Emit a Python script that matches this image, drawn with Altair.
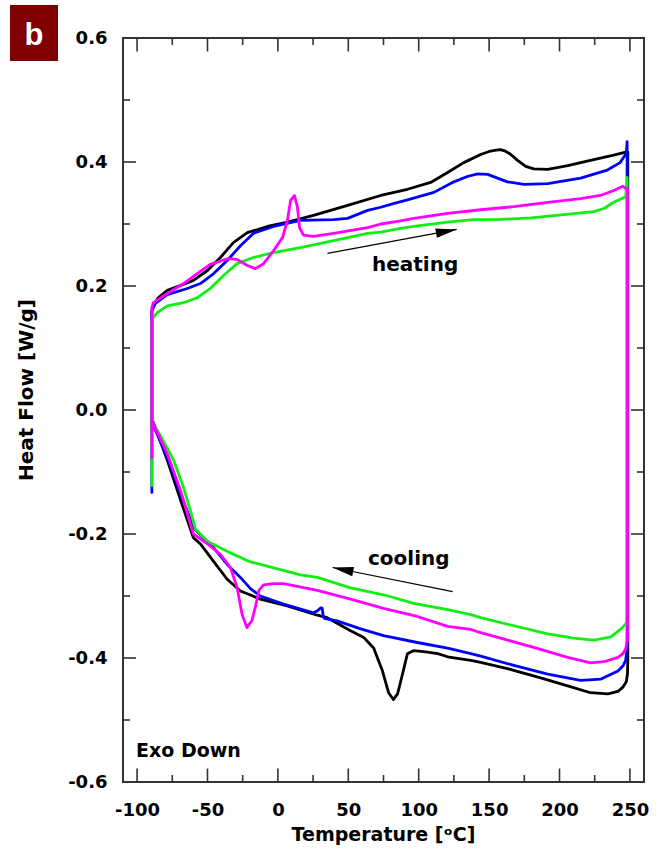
import math
import altair as alt
import pandas as pd

# ---------------- layout constants ----------------
W, H = 521, 744
PAD_L, PAD_T = 123, 38
X_DOM = [-110, 260]
Y_DOM = [-0.6, 0.6]
FRAME = "#333333"
FONT = "DejaVu Sans"

# ---------------- data ----------------
series_names = ["black", "blue", "green", "magenta"]
series_colors = ["#000000", "#0000ff", "#11ee11", "#ff00ff"]

black_T = [-89.5, -89.5, -88.4, -85, -78.5, -69, -60, -50, -40.8, -31.6, -21.7, -7.5, 6.8, 25.3, 49.5, 73, 92,
           108.5, 120.5, 132, 144, 150, 155, 158, 161, 165, 170, 176, 181.7, 191.6, 205.8, 224.3, 238.5, 247,
           248.5,
           248.5, 248.3, 247.5, 245, 241.5, 234.4, 222, 205.8, 186.6, 163, 144, 137, 120.5, 113.5, 105, 96.5,
           92, 88.6, 85, 82, 78.6, 74.3, 68, 61, 51.6, 35, 28, 6.6, -12.5, -26.6, -36, -45.7, -55, -60,
           -69, -78.5, -88.4]
black_HF = [-0.03, 0.160, 0.168, 0.181, 0.193, 0.201, 0.209, 0.225, 0.246, 0.270, 0.286, 0.296, 0.303, 0.314,
            0.330, 0.346, 0.356, 0.367, 0.383, 0.399, 0.412, 0.417, 0.419, 0.420, 0.418, 0.413, 0.403, 0.393,
            0.389, 0.388, 0.394, 0.404, 0.411, 0.416, 0.416,
            -0.400, -0.425, -0.438, -0.447, -0.454, -0.458, -0.456, -0.445, -0.432, -0.417, -0.407, -0.404,
            -0.398, -0.393, -0.390, -0.388, -0.393, -0.425, -0.458, -0.467, -0.456, -0.421, -0.384, -0.367,
            -0.356, -0.335, -0.331, -0.316, -0.305, -0.292, -0.273, -0.244, -0.216, -0.206, -0.146, -0.081,
            -0.020]

blue_T = [-89.5, -89.5, -87, -78.5, -64.4, -55, -45.6, -36, -26.6, -17.3, -3.1, 16, 39.6, 49.5, 63.7, 73, 82,
          92, 110.8, 125, 135, 142, 149, 156, 163, 174.8, 191.6, 215, 234, 243, 247.5, 248,
          248, 247, 245, 241.5, 229.5, 215, 191.6, 167.6, 144, 137, 120.5, 99, 75, 58.8, 42, 33, 32.2, 31.5,
          30.5, 28, 25.3, 4, -12.4, -19.5, -26.6, -36, -45.7, -60, -69, -78.5, -88.4]
blue_HF = [-0.133, 0.160, 0.172, 0.186, 0.196, 0.204, 0.220, 0.241, 0.265, 0.285, 0.296, 0.306, 0.307, 0.309,
           0.322, 0.327, 0.333, 0.339, 0.351, 0.368, 0.377, 0.381, 0.380, 0.374, 0.368, 0.364, 0.365, 0.374,
           0.387, 0.399, 0.414, 0.433,
           -0.383, -0.404, -0.413, -0.421, -0.434, -0.436, -0.426, -0.412, -0.397, -0.393, -0.384, -0.375,
           -0.364, -0.353, -0.340, -0.336, -0.333, -0.320, -0.319, -0.324, -0.327, -0.313, -0.300, -0.288,
           -0.270, -0.249, -0.222, -0.190, -0.135, -0.077, -0.025]

green_T = [-89.5, -89.5, -88, -85.6, -78.5, -67, -57.3, -48, -38.6, -29, -17.3, -3.1, 16, 39.6, 63.7, 73, 87,
           96.5, 120.5, 139, 156, 179.7, 203, 224.3, 231.5, 238.5, 247, 248,
           248, 247, 243.7, 236.5, 224.5, 210, 191.6, 167.6, 144, 137, 120.5, 96.5, 75, 51.6, 28, 16, -12.5,
           -19.5, -36, -50, -58.6, -62.2, -67, -74, -83.5, -89]
green_HF = [-0.122, 0.145, 0.150, 0.157, 0.168, 0.173, 0.181, 0.196, 0.217, 0.236, 0.246, 0.254, 0.262, 0.273,
            0.285, 0.287, 0.293, 0.296, 0.303, 0.307, 0.307, 0.310, 0.315, 0.320, 0.325, 0.335, 0.344, 0.375,
            -0.340, -0.345, -0.353, -0.366, -0.371, -0.368, -0.361, -0.348, -0.335, -0.330, -0.322, -0.312,
            -0.298, -0.287, -0.270, -0.266, -0.249, -0.245, -0.228, -0.212, -0.192, -0.162, -0.125, -0.081,
            -0.041, -0.020]

magenta_T = [-89.5, -89.5, -88.4, -78.5, -67, -57.3, -48, -36, -29, -21.7, -16, -10.2, -3.1, 3.3, 6.8, 9, 11.8,
             13.9, 15.4, 18.2, 25.3, 39.6, 63.7, 73, 87, 96.5, 120.5, 144, 167.6, 191.6, 215, 229, 238.5, 245,
             247, 248.3,
             248.3, 247, 245, 241.5, 231.5, 222, 205.8, 181.7, 144, 137, 120.5, 99, 75, 51.6, 28, 4, -3, -10.2,
             -13.5, -16, -18.5, -22, -25.5, -29, -33.7, -40.8, -50, -60, -69, -78.5, -89]
magenta_HF = [-0.077, 0.165, 0.173, 0.188, 0.204, 0.220, 0.235, 0.244, 0.243, 0.233, 0.228, 0.236, 0.257, 0.278,
              0.306, 0.338, 0.346, 0.327, 0.294, 0.282, 0.280, 0.285, 0.294, 0.300, 0.305, 0.309, 0.317, 0.323,
              0.328, 0.335, 0.341, 0.346, 0.354, 0.361, 0.357, 0.357,
              -0.370, -0.385, -0.393, -0.399, -0.406, -0.408, -0.399, -0.383, -0.359, -0.354, -0.349, -0.333,
              -0.320, -0.305, -0.291, -0.280, -0.280, -0.282, -0.291, -0.318, -0.340, -0.351, -0.329, -0.286,
              -0.254, -0.233, -0.216, -0.200, -0.131, -0.071, -0.020]

x_tick_labels = [-100, -50, 0, 50, 100, 150, 200, 250]
x_minor_ticks = [-75, -25, 25, 75, 125, 175, 225]
y_tick_labels = [-0.6, -0.4, -0.2, 0.0, 0.2, 0.4, 0.6]
y_minor_ticks = [-0.5, -0.3, -0.1, 0.1, 0.3, 0.5]

heating_arrow = [(35.2, 0.2526), (127.0, 0.2913)]
cooling_arrow = [(124.1, -0.293), (38.8, -0.254)]

# ---------------- build tables ----------------
all_T = [black_T, blue_T, green_T, magenta_T]
all_HF = [black_HF, blue_HF, green_HF, magenta_HF]
rows = []
for name, Ts, HFs in zip(series_names, all_T, all_HF):
    for i, (t, h) in enumerate(zip(Ts, HFs)):
        rows.append({"series": name, "T": t, "HF": h, "idx": i})
df = pd.DataFrame(rows)

xscale = alt.Scale(domain=X_DOM, nice=False, zero=False)
yscale = alt.Scale(domain=Y_DOM, nice=False, zero=False)
hyphen = "replace(datum.label, '\u2212', '-')"
xaxis = alt.Axis(values=x_tick_labels, ticks=False, domain=False, grid=False, title=None, format="d",
                 labelExpr=hyphen,
                 labelFont=FONT, labelFontWeight="bold", labelFontSize=18, labelColor="black",
                 labelPadding=19, labelFlush=False, labelOverlap=False)
yaxis = alt.Axis(values=y_tick_labels, ticks=False, domain=False, grid=False, title=None, format=".1f",
                 labelExpr=hyphen,
                 labelFont=FONT, labelFontWeight="bold", labelFontSize=18, labelColor="black",
                 labelPadding=16, labelFlush=False, labelOverlap=False)

layers = []

# tick marks drawn inward
for vals, ln in [(x_tick_labels, 13.5), (x_minor_ticks, 7)]:
    tdf = pd.DataFrame({"v": vals})
    for y0, y1 in [(H, H - ln), (0, ln)]:
        layers.append(alt.Chart(tdf).mark_rule(color=FRAME, strokeWidth=1.6).encode(
            x=alt.X("v:Q", scale=xscale, axis=xaxis), y=alt.value(y0), y2=alt.value(y1)))
for vals, ln in [(y_tick_labels[1:-1], 13), (y_minor_ticks, 7)]:
    tdf = pd.DataFrame({"v": vals})
    for x0, x1 in [(0, ln), (W, W - ln)]:
        layers.append(alt.Chart(tdf).mark_rule(color=FRAME, strokeWidth=1.6).encode(
            y=alt.Y("v:Q", scale=yscale, axis=yaxis), x=alt.value(x0), x2=alt.value(x1)))

# curves
for name, col in zip(series_names, series_colors):
    layers.append(alt.Chart(df).transform_filter(alt.datum.series == name).mark_line(
        color=col, strokeWidth=2.8, strokeJoin="round", strokeCap="round").encode(
        x=alt.X("T:Q", scale=xscale, axis=xaxis),
        y=alt.Y("HF:Q", scale=yscale, axis=yaxis),
        order="idx:Q"))

# arrows
head_path = "M0,0 L-2,-0.45 L-2,0.45 Z"
for arrow in [heating_arrow, cooling_arrow]:
    (t1, h1), (t2, h2) = arrow
    adf = pd.DataFrame({"t1": [t1], "h1": [h1], "t2": [t2], "h2": [h2]})
    layers.append(alt.Chart(adf).mark_rule(color="black", strokeWidth=1.1).encode(
        x=alt.X("t1:Q", scale=xscale, axis=xaxis), y=alt.Y("h1:Q", scale=yscale, axis=yaxis),
        x2="t2:Q", y2="h2:Q"))
    dx = (t2 - t1) * W / (X_DOM[1] - X_DOM[0])
    dy = -(h2 - h1) * H / (Y_DOM[1] - Y_DOM[0])
    ang = math.degrees(math.atan2(dy, dx)) % 360
    layers.append(alt.Chart(adf).mark_point(shape=head_path, size=441, filled=True, color="black",
                                             opacity=1, strokeWidth=0, angle=ang).encode(
        x=alt.X("t2:Q", scale=xscale, axis=xaxis), y=alt.Y("h2:Q", scale=yscale, axis=yaxis)))

# annotation texts
def txt(s, x, y, size, align="left", baseline="alphabetic", angle=0, color="black", font=FONT):
    kw = dict(text=s, align=align, baseline=baseline, font=font, fontSize=size, fontWeight="bold",
              color=color)
    if angle:
        kw["angle"] = angle
    return alt.Chart(pd.DataFrame({"a": [0]})).mark_text(**kw).encode(x=alt.value(x), y=alt.value(y))

layers.append(txt("heating", 249, 233, 20))
layers.append(txt("cooling", 245, 527, 20))
layers.append(txt("Exo Down", 13, 719, 19))
layers.append(txt("Temperature [ᵒC]", W / 2, 803, 19, align="center"))
layers.append(txt("Heat Flow [W/g]", -96, 352, 20, align="center", baseline="middle", angle=270))

# panel letter box
layers.append(alt.Chart(pd.DataFrame({"a": [0]})).mark_rect(color="#800000").encode(
    x=alt.value(10 - PAD_L), x2=alt.value(58 - PAD_L), y=alt.value(5 - PAD_T), y2=alt.value(61 - PAD_T)))
layers.append(txt("b", 34 - PAD_L, 45 - PAD_T, 31, align="center", color="white", font="Liberation Sans"))

chart = alt.layer(*layers).properties(
    width=W, height=H,
    padding={"left": PAD_L, "top": PAD_T, "right": 663 - PAD_L - W, "bottom": 852 - PAD_T - H},
    autosize=alt.AutoSizeParams(type="none"),
    background="white",
).configure_view(stroke=FRAME, strokeWidth=2)

chart.save("out.html", embed_options={"renderer": "svg", "actions": False})
